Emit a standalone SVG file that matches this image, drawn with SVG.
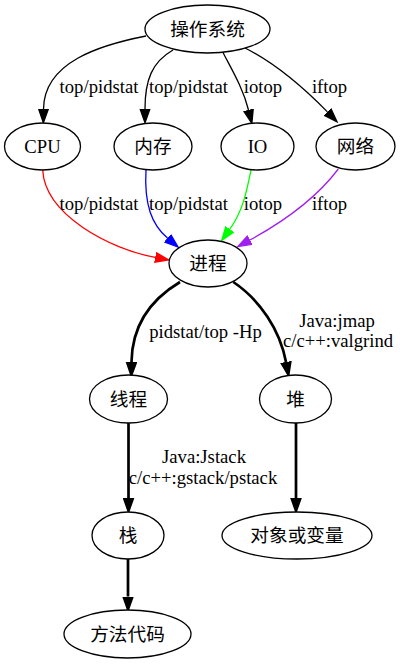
<svg xmlns="http://www.w3.org/2000/svg" width="400" height="664" viewBox="0 0 400 664">
<style>
  .node ellipse { fill: #ffffff; stroke: #000000; stroke-width: 1.3; }
  .node text { font-family: "Liberation Serif", "Noto Sans CJK SC", serif; font-size: 18.67px; text-anchor: middle; fill: #000000; }
  .node text.cjk { font-family: "Noto Sans CJK SC", sans-serif; }
  .edge path { fill: none; stroke-width: 1.3; }
  .edge path.bold { stroke-width: 2.7; }
  .lbl { font-family: "Liberation Serif", serif; font-size: 18.67px; text-anchor: middle; fill: #000000; }
</style>
<defs>
  <marker id="ab" markerUnits="userSpaceOnUse" markerWidth="16" markerHeight="12" refX="0" refY="6" orient="auto" viewBox="0 0 16 12">
    <path d="M0.5,1.3 L13.8,6 L0.5,10.7 Z" fill="#000000" stroke="#000000" stroke-width="1.3"/>
  </marker>
  <marker id="abb" markerUnits="userSpaceOnUse" markerWidth="16" markerHeight="12" refX="0" refY="6" orient="auto" viewBox="0 0 16 12">
    <path d="M0.8,1.5 L13.6,6 L0.8,10.5 Z" fill="#000000" stroke="#000000" stroke-width="2"/>
  </marker>
  <marker id="ar" markerUnits="userSpaceOnUse" markerWidth="16" markerHeight="12" refX="0" refY="6" orient="auto" viewBox="0 0 16 12">
    <path d="M0.5,1.3 L13.8,6 L0.5,10.7 Z" fill="#ff0000" stroke="#ff0000" stroke-width="1.3"/>
  </marker>
  <marker id="abl" markerUnits="userSpaceOnUse" markerWidth="16" markerHeight="12" refX="0" refY="6" orient="auto" viewBox="0 0 16 12">
    <path d="M0.5,1.3 L13.8,6 L0.5,10.7 Z" fill="#0000ff" stroke="#0000ff" stroke-width="1.3"/>
  </marker>
  <marker id="ag" markerUnits="userSpaceOnUse" markerWidth="16" markerHeight="12" refX="0" refY="6" orient="auto" viewBox="0 0 16 12">
    <path d="M0.5,1.3 L13.8,6 L0.5,10.7 Z" fill="#00ff00" stroke="#00ff00" stroke-width="1.3"/>
  </marker>
  <marker id="ap" markerUnits="userSpaceOnUse" markerWidth="16" markerHeight="12" refX="0" refY="6" orient="auto" viewBox="0 0 16 12">
    <path d="M0.5,1.3 L13.8,6 L0.5,10.7 Z" fill="#a020f0" stroke="#a020f0" stroke-width="1.3"/>
  </marker>
</defs>
<rect width="400" height="664" fill="#ffffff"/>

<g id="edges">
  <g class="edge" id="e-os-cpu">
    <path d="M146,36 C100,45 44,62 43.5,109" stroke="#000000" marker-end="url(#ab)"/>
    <text class="lbl" x="99" y="92.5">top/pidstat</text>
  </g>
  <g class="edge" id="e-os-mem">
    <path d="M173,50 C152,62 145,80 145,109" stroke="#000000" marker-end="url(#ab)"/>
    <text class="lbl" x="188.5" y="92.5">top/pidstat</text>
  </g>
  <g class="edge" id="e-os-io">
    <path d="M222.7,52 C232,70 243,88 248.5,110" stroke="#000000" marker-end="url(#ab)"/>
    <text class="lbl" x="263" y="92.5">iotop</text>
  </g>
  <g class="edge" id="e-os-net">
    <path d="M245,48 C275,63 303,87 327.4,111.9" stroke="#000000" marker-end="url(#ab)"/>
    <text class="lbl" x="329.5" y="92.5">iftop</text>
  </g>
  <g class="edge" id="e-cpu-proc">
    <path d="M42.7,170 C45,215 110,249 155.2,257.4" stroke="#ff0000" marker-end="url(#ar)"/>
    <text class="lbl" x="99" y="210">top/pidstat</text>
  </g>
  <g class="edge" id="e-mem-proc">
    <path d="M146,170 C144,205 152,225 167.5,238.1" stroke="#0000ff" marker-end="url(#abl)"/>
    <text class="lbl" x="188.5" y="210">top/pidstat</text>
  </g>
  <g class="edge" id="e-io-proc">
    <path d="M251,170 C247,190 243,211 229.8,229.2" stroke="#00ff00" marker-end="url(#ag)"/>
    <text class="lbl" x="263" y="210">iotop</text>
  </g>
  <g class="edge" id="e-net-proc">
    <path d="M338.3,169 C315,200 282,222.5 250,240" stroke="#a020f0" marker-end="url(#ap)"/>
    <text class="lbl" x="329.5" y="210">iftop</text>
  </g>
  <g class="edge" id="e-proc-thread">
    <path class="bold" d="M180,282 C150,300 132,325 131.5,362" stroke="#000000" marker-end="url(#abb)"/>
    <text class="lbl" x="205.5" y="337.5">pidstat/top -Hp</text>
  </g>
  <g class="edge" id="e-proc-heap">
    <path class="bold" d="M233.3,282 C260,300 280,330 286,362" stroke="#000000" marker-end="url(#abb)"/>
    <text class="lbl" x="337" y="327">Java:jmap</text>
    <text class="lbl" x="338" y="346.5">c/c++:valgrind</text>
  </g>
  <g class="edge" id="e-thread-stack">
    <path class="bold" d="M128.5,423 L128.5,498" stroke="#000000" marker-end="url(#abb)"/>
    <text class="lbl" x="204" y="463">Java:Jstack</text>
    <text class="lbl" x="203" y="483.5">c/c++:gstack/pstack</text>
  </g>
  <g class="edge" id="e-heap-obj">
    <path class="bold" d="M296,423 L296,498" stroke="#000000" marker-end="url(#abb)"/>
  </g>
  <g class="edge" id="e-stack-method">
    <path class="bold" d="M128,559 L128,596.5" stroke="#000000" marker-end="url(#abb)"/>
  </g>
</g>

<g class="node" id="n-os">
  <ellipse cx="207.5" cy="29" rx="62.5" ry="24"/>
  <text class="cjk" x="207.5" y="35.5">操作系统</text>
</g>
<g class="node" id="n-cpu">
  <ellipse cx="42.5" cy="146.5" rx="38" ry="23.5"/>
  <text x="42.5" y="153">CPU</text>
</g>
<g class="node" id="n-mem">
  <ellipse cx="153" cy="146.5" rx="39" ry="23.5"/>
  <text class="cjk" x="153" y="153">内存</text>
</g>
<g class="node" id="n-io">
  <ellipse cx="257.5" cy="146.5" rx="36.5" ry="23.5"/>
  <text x="257.5" y="153">IO</text>
</g>
<g class="node" id="n-net">
  <ellipse cx="355.5" cy="146.5" rx="39.5" ry="23.5"/>
  <text class="cjk" x="355.5" y="153">网络</text>
</g>
<g class="node" id="n-proc">
  <ellipse cx="208" cy="263.5" rx="39" ry="23.5"/>
  <text class="cjk" x="208" y="270">进程</text>
</g>
<g class="node" id="n-thread">
  <ellipse cx="128.5" cy="399" rx="39" ry="24"/>
  <text class="cjk" x="128.5" y="405.5">线程</text>
</g>
<g class="node" id="n-heap">
  <ellipse cx="295.5" cy="399" rx="36" ry="24"/>
  <text class="cjk" x="295.5" y="405.5">堆</text>
</g>
<g class="node" id="n-stack">
  <ellipse cx="128" cy="535.5" rx="36" ry="23.5"/>
  <text class="cjk" x="128" y="542">栈</text>
</g>
<g class="node" id="n-obj">
  <ellipse cx="297" cy="535.5" rx="75" ry="23.5"/>
  <text class="cjk" x="297" y="542">对象或变量</text>
</g>
<g class="node" id="n-method">
  <ellipse cx="127.5" cy="634" rx="63.5" ry="24"/>
  <text class="cjk" x="127.5" y="640.5">方法代码</text>
</g>
</svg>
